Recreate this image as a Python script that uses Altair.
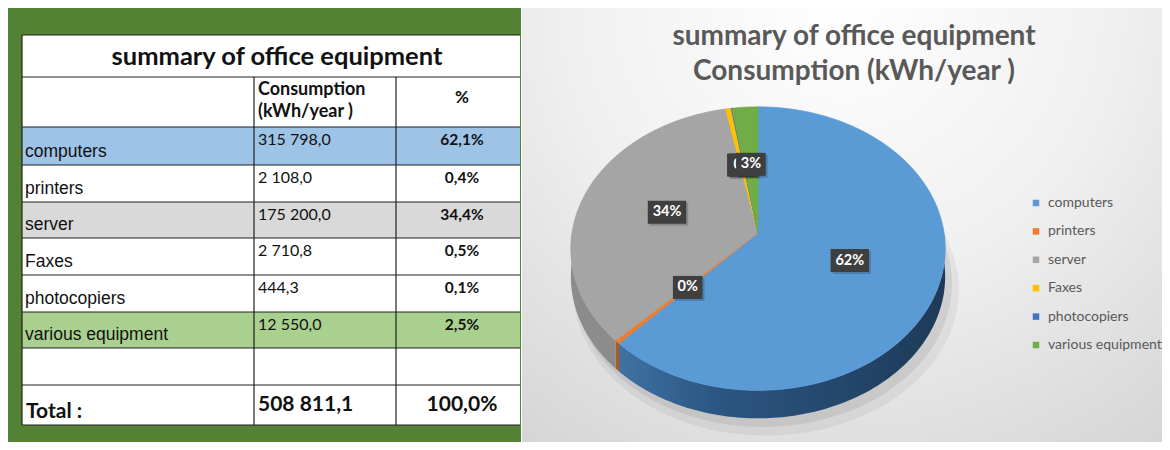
import altair as alt
import pandas as pd

# ---------------- data ----------------
categories = ["computers", "printers", "server", "Faxes", "photocopiers", "various equipment"]
consumption = [315798.0, 2108.0, 175200.0, 2710.8, 444.3, 12550.0]
consumption_text = ["315 798,0", "2 108,0", "175 200,0", "2 710,8", "444,3", "12 550,0"]
share_text = ["62,1%", "0,4%", "34,4%", "0,5%", "0,1%", "2,5%"]
total_label = "Total :"
total_consumption_text = "508 811,1"
total_share_text = "100,0%"
pie_labels = ["62%", "0%", "34%", "0%", "0%", "3%"]
table_title = "summary of office equipment"
header_consumption = ["Consumption", "(kWh/year )"]
header_share = "%"
chart_title = ["summary of office equipment", "Consumption (kWh/year )"]

# ---------------- styles ----------------
slice_colors = ["#5B9BD5", "#ED7D31", "#A5A5A5", "#FFC000", "#4472C4", "#70AD47"]
side_colors = ["#2B5682", "#B05A1E", "#8C8C8C", "#BF9000", "#2F528F", "#507E32"]
row_fills = ["#9DC3E6", "#FFFFFF", "#D9D9D9", "#FFFFFF", "#FFFFFF", "#A9D08E"]
FRAME_GREEN = "#548235"
TITLE_GRAY = "#595959"
LABEL_BOX = "#3F3F3F"

# ---------------- layout (reference pixel geometry) ----------------
W, H = 1154, 434
X0, Y0 = 8, 8
PANEL_SPLIT = 521
TABLE_L, COL1, COL2, TABLE_R = 22, 254, 396, 520
ROW_EDGES = [35, 77, 127, 165, 202, 238, 275, 312, 348, 385, 425]
CX, CY, RX, RY, P, DEPTH = 758, 233, 186, 140, 0.11, 28
LABEL_R = 0.52

xs = alt.Scale(domain=[X0, X0 + W], nice=False, zero=False)
ys = alt.Scale(domain=[Y0, Y0 + H], nice=False, zero=False, reverse=True)


def xq(f):
    return alt.X(f"{f}:Q", scale=xs, axis=None)


def yq(f):
    return alt.Y(f"{f}:Q", scale=ys, axis=None)


# ---------------- table ----------------
bg_df = pd.DataFrame({
    "x": [X0, TABLE_L], "x2": [PANEL_SPLIT, TABLE_R],
    "y": [Y0, ROW_EDGES[0]], "y2": [Y0 + H, ROW_EDGES[-1]],
    "fill": [FRAME_GREEN, "#FFFFFF"],
})
bg = alt.Chart(bg_df).mark_rect().encode(
    x=xq("x"), x2="x2:Q", y=yq("y"), y2="y2:Q", fill=alt.Fill("fill:N", scale=None)
)

data_tops = ROW_EDGES[2:8]
data_bottoms = ROW_EDGES[3:9]
rows_df = pd.DataFrame({
    "cat": categories, "top": data_tops, "bottom": data_bottoms, "fill": row_fills,
})
rows_df["x"] = TABLE_L
rows_df["x2"] = TABLE_R
row_rects = alt.Chart(rows_df).mark_rect().encode(
    x=xq("x"), x2="x2:Q", y=yq("top"), y2="bottom:Q", fill=alt.Fill("fill:N", scale=None)
)

h_lines = pd.DataFrame({"x": TABLE_L, "x2": TABLE_R, "y": ROW_EDGES, "y2": ROW_EDGES})
v_lines = pd.DataFrame({
    "x": [TABLE_L, COL1, COL2], "x2": [TABLE_L, COL1, COL2],
    "y": [ROW_EDGES[0], ROW_EDGES[1], ROW_EDGES[1]], "y2": [ROW_EDGES[-1]] * 3,
})
grid = alt.Chart(pd.concat([h_lines, v_lines])).mark_rule(color="#202020", strokeWidth=1.2).encode(
    x=xq("x"), x2="x2:Q", y=yq("y"), y2="y2:Q"
)


def text_layer(df, font, size, weight, align, baseline, color="#000000"):
    return alt.Chart(df).mark_text(
        font=font, fontSize=size, fontWeight=weight, align=align, baseline=baseline, color=color
    ).encode(x=xq("x"), y=yq("y"), text="t:N")


COL3_MID = 462
t_title = text_layer(pd.DataFrame({"t": [table_title], "x": [277], "y": [57]}),
                     "Lato", 25.5, "bold", "center", "middle", "#111111")
t_head = text_layer(pd.DataFrame({"t": header_consumption, "x": [COL1 + 4] * 2, "y": [90, 112]}),
                    "Lato", 18, "bold", "left", "middle", "#111111")
t_head2 = text_layer(pd.DataFrame({"t": [header_share], "x": [COL3_MID], "y": [98]}),
                     "Lato", 17, "bold", "center", "middle", "#111111")
lab_df = pd.DataFrame({"t": categories, "x": TABLE_L + 3, "y": [b - 8 for b in data_bottoms]})
t_labels = text_layer(lab_df, "Liberation Sans", 17.5, "normal", "left", "alphabetic", "#111111")
num_df = pd.DataFrame({"t": consumption_text, "x": COL1 + 4, "y": [t + 13 for t in data_tops]})
t_nums = text_layer(num_df, "Lato", 16, "normal", "left", "middle", "#111111")
sh_df = pd.DataFrame({"t": share_text, "x": COL3_MID, "y": [t + 13 for t in data_tops]})
t_share = text_layer(sh_df, "Lato", 15.5, "bold", "center", "middle", "#111111")
t_total1 = text_layer(pd.DataFrame({"t": [total_label], "x": [TABLE_L + 4], "y": [418]}),
                      "Lato", 21, "bold", "left", "alphabetic", "#111111")
t_total2 = text_layer(pd.DataFrame({"t": [total_consumption_text], "x": [COL1 + 4], "y": [405]}),
                      "Lato", 21, "bold", "left", "middle", "#111111")
t_total3 = text_layer(pd.DataFrame({"t": [total_share_text], "x": [COL3_MID], "y": [405]}),
                      "Lato", 21, "bold", "center", "middle", "#111111")

# ---------------- chart panel ----------------
panel_df = pd.DataFrame({"x": [PANEL_SPLIT + 1], "x2": [X0 + W], "y": [Y0], "y2": [Y0 + H]})
panel = alt.Chart(panel_df).mark_rect(
    fill=alt.RadialGradient(
        gradient="radial",
        stops=[alt.GradientStop(offset=0, color="#FFFFFF"),
               alt.GradientStop(offset=0.45, color="#F0F0F0"),
               alt.GradientStop(offset=1, color="#CFCFCF")],
        x1=0.5, y1=0.15, x2=0.5, y2=0.15, r1=0, r2=0.95,
    )
).encode(x=xq("x"), x2="x2:Q", y=yq("y"), y2="y2:Q")

pie_df = pd.DataFrame({"cat": categories, "value": consumption, "idx": list(range(len(categories))),
                       "label": pie_labels})


def px_expr(u, v):
    return f"{CX} + {RX} * ({u}) / (1 - {P} * ({v}))"


def py_expr(u, v):
    return f"{CY} + {RY} * ({v}) / (1 - {P} * ({v}))"


def pie_base():
    return alt.Chart(pie_df).transform_joinaggregate(total="sum(value)").transform_window(
        cum="sum(value)", sort=[alt.SortField("idx", order="ascending")], frame=[None, 0]
    ).transform_calculate(
        a0="2 * PI * (datum.cum - datum.value) / datum.total"
    ).transform_calculate(
        a1="2 * PI * datum.cum / datum.total"
    )


# soft shadow under the pie (offset down and to the right)
shadow_layers = []
for grow, dx, dy, op in [(1.03, 8, 12, 0.05), (1.01, 5, 7, 0.07)]:
    shadow_layers.append(
        alt.Chart(alt.sequence(0, 121, as_="k")).transform_calculate(
            ang="2 * PI * datum.k / 120"
        ).transform_calculate(
            u=f"{grow} * sin(datum.ang)", v=f"{grow} * -cos(datum.ang)"
        ).transform_calculate(
            px=f"{px_expr('datum.u', 'datum.v')} + {dx}",
            py=f"{py_expr('datum.u', 'datum.v')} + {DEPTH + dy}",
        ).mark_line(filled=True, interpolate="linear-closed", fill="#000000", fillOpacity=op,
                    strokeWidth=0).encode(x=xq("px"), y=yq("py"), order="k:Q")
    )

NS = 120
side_layers = []
for cat, sc in zip(categories, side_colors):
    fill = sc
    if cat == "computers":
        fill = alt.LinearGradient(
            gradient="linear",
            stops=[alt.GradientStop(offset=0, color="#3F72A3"),
                   alt.GradientStop(offset=0.3, color="#2B5682"),
                   alt.GradientStop(offset=1, color="#1E3A58")],
            x1=0, x2=1, y1=0, y2=0,
        )
    side_layers.append(
        pie_base().transform_filter(f"datum.cat == '{cat}'").transform_calculate(
            s0="max(datum.a0, PI / 2)"
        ).transform_calculate(
            s1="min(datum.a1, 3 * PI / 2)"
        ).transform_filter("datum.s1 > datum.s0").transform_calculate(
            k=f"sequence(0, {2 * NS + 2})"
        ).transform_flatten(["k"]).transform_calculate(
            j=f"datum.k <= {NS} ? datum.k : {2 * NS + 1} - datum.k"
        ).transform_calculate(
            ang=f"datum.s0 + (datum.s1 - datum.s0) * datum.j / {NS}"
        ).transform_calculate(
            u="sin(datum.ang)", v="-cos(datum.ang)"
        ).transform_calculate(
            px=px_expr("datum.u", "datum.v"),
            py=f"{py_expr('datum.u', 'datum.v')} + (datum.k > {NS} ? {DEPTH} : 0)",
        ).mark_line(filled=True, interpolate="linear-closed", fill=fill, strokeWidth=0).encode(
            x=xq("px"), y=yq("py"), order="k:Q"
        )
    )

NT = 160
color_scale = alt.Scale(domain=categories, range=slice_colors)
top = pie_base().transform_calculate(
    k=f"sequence(0, {NT + 2})"
).transform_flatten(["k"]).transform_calculate(
    ang=f"datum.a0 + (datum.a1 - datum.a0) * max(datum.k - 1, 0) / {NT}"
).transform_calculate(
    rr="datum.k == 0 ? 0 : 1"
).transform_calculate(
    u="datum.rr * sin(datum.ang)", v="-datum.rr * cos(datum.ang)"
).transform_calculate(
    px=px_expr("datum.u", "datum.v"), py=py_expr("datum.u", "datum.v")
).mark_line(filled=True, interpolate="linear-closed", strokeWidth=0.8, strokeJoin="round").encode(
    x=xq("px"), y=yq("py"), order="k:Q", detail="cat:N",
    color=alt.Color("cat:N", scale=color_scale, sort=categories, title=None,
                    legend=alt.Legend(orient="none", legendX=1021, legendY=188, symbolType="square",
                                      symbolSize=42, symbolStrokeWidth=0, labelFont="Lato",
                                      labelFontSize=14, labelColor=TITLE_GRAY, rowPadding=14.4,
                                      labelOffset=5, padding=0)),
    stroke=alt.Stroke("cat:N", scale=color_scale, legend=None),
)

label_layers = []
for cat in categories:
    lb = pie_base().transform_filter(f"datum.cat == '{cat}'").transform_calculate(
        mid="(datum.a0 + datum.a1) / 2"
    ).transform_calculate(
        u=f"{LABEL_R} * sin(datum.mid)", v=f"-{LABEL_R} * cos(datum.mid)"
    ).transform_calculate(
        lx=px_expr("datum.u", "datum.v"), ly=py_expr("datum.u", "datum.v")
    ).transform_calculate(
        hw="6 + 4.4 * length(datum.label)"
    ).transform_calculate(
        bx0="datum.lx - datum.hw", bx1="datum.lx + datum.hw",
        by0="datum.ly - 11.5", by1="datum.ly + 11.5",
        sx0="datum.lx - datum.hw + 2", sx1="datum.lx + datum.hw + 2",
        sy0="datum.ly - 9.5", sy1="datum.ly + 13.5",
    )
    label_layers.append(lb.mark_rect(color="#000000", opacity=0.18).encode(
        x=xq("sx0"), x2="sx1:Q", y=yq("sy0"), y2="sy1:Q"))
    label_layers.append(lb.mark_rect(color=LABEL_BOX).encode(
        x=xq("bx0"), x2="bx1:Q", y=yq("by0"), y2="by1:Q"))
    label_layers.append(lb.mark_text(font="Lato", fontSize=14.5, fontWeight="bold", color="#FFFFFF",
                                     align="center", baseline="middle").encode(
        x=xq("lx"), y=yq("ly"), text="label:N"))

title_df = pd.DataFrame({"t": chart_title, "x": [854, 854], "y": [37, 72]})
t_chart = text_layer(title_df, "Lato", 28, "bold", "center", "middle", TITLE_GRAY)

chart = alt.layer(
    bg, row_rects, grid, t_title, t_head, t_head2, t_labels, t_nums, t_share,
    t_total1, t_total2, t_total3,
    panel, *shadow_layers, *side_layers, top, *label_layers, t_chart,
).properties(
    width=W, height=H, padding=0, autosize=alt.AutoSizeParams(type="none")
).configure_view(stroke=None)

chart.save("out.html", embed_options={"renderer": "svg", "actions": False})
